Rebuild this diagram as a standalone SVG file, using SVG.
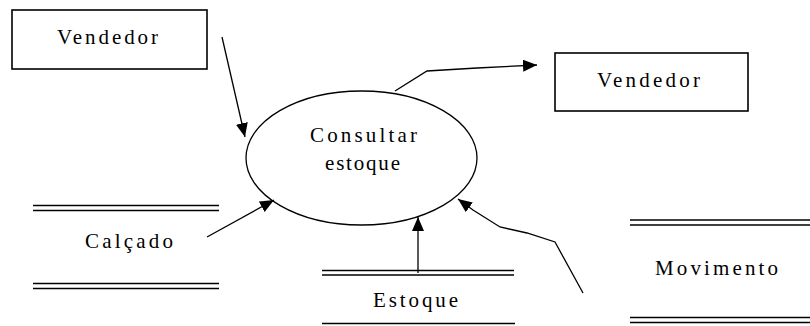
<svg xmlns="http://www.w3.org/2000/svg" width="810" height="326" viewBox="0 0 810 326">
<style>
.box{fill:#fff;stroke:#000;stroke-width:1.6}
.ln{stroke:#000;stroke-width:1.5;fill:none}
.con{stroke:#000;stroke-width:1.3;fill:none}
.t{font-family:"Liberation Serif","Times New Roman",serif;font-size:21px;fill:#000}
</style>
<defs>
<marker id="ah" viewBox="0 0 14 12" refX="14" refY="6" markerWidth="14" markerHeight="12" markerUnits="userSpaceOnUse" orient="auto">
<path d="M0,0 L14,6 L0,12 z" fill="#000"/>
</marker>
</defs>
<rect width="810" height="326" fill="#fff"/>
<g id="vendedor1">
<rect class="box" x="12" y="10" width="195" height="59"/>
<text class="t" x="57" y="44" textLength="101" lengthAdjust="spacing">Vendedor</text>
</g>
<g id="consultar">
<ellipse cx="361.5" cy="158" rx="115.5" ry="67" fill="#fff" stroke="#000" stroke-width="1.3"/>
<text class="t" x="310" y="142" textLength="107" lengthAdjust="spacing">Consultar</text>
<text class="t" x="325" y="170" textLength="75" lengthAdjust="spacing">estoque</text>
</g>
<g id="vendedor2">
<rect class="box" x="555" y="53" width="193" height="58"/>
<text class="t" x="597" y="87" textLength="103" lengthAdjust="spacing">Vendedor</text>
</g>
<g id="calcado">
<line class="ln" x1="33" y1="205.5" x2="219" y2="205.5"/>
<line class="ln" x1="33" y1="210.5" x2="219" y2="210.5"/>
<line class="ln" x1="33" y1="283.5" x2="219" y2="283.5"/>
<line class="ln" x1="33" y1="288.5" x2="219" y2="288.5"/>
<text class="t" x="85" y="248" textLength="88" lengthAdjust="spacing">Calçado</text>
</g>
<g id="estoque">
<line class="ln" x1="322" y1="270.5" x2="514" y2="270.5"/>
<line class="ln" x1="322" y1="275" x2="514" y2="275"/>
<line class="ln" x1="322" y1="323.5" x2="515" y2="323.5"/>
<text class="t" x="373" y="307" textLength="85" lengthAdjust="spacing">Estoque</text>
</g>
<g id="movimento">
<line class="ln" x1="630" y1="220" x2="810" y2="220"/>
<line class="ln" x1="630" y1="225" x2="810" y2="225"/>
<line class="ln" x1="630" y1="317.5" x2="810" y2="317.5"/>
<line class="ln" x1="630" y1="322.5" x2="810" y2="322.5"/>
<text class="t" x="655" y="275" textLength="123" lengthAdjust="spacing">Movimento</text>
</g>
<g id="connectors">
<line class="con" x1="222" y1="37" x2="245" y2="137" marker-end="url(#ah)"/>
<polyline class="con" points="395,91 427,71 477,68 537,65" marker-end="url(#ah)"/>
<line class="con" x1="207" y1="237" x2="274" y2="200" marker-end="url(#ah)"/>
<line class="con" x1="418" y1="273" x2="418" y2="217" marker-end="url(#ah)"/>
<polyline class="con" points="583,293 555,242 527,233 500,227 473,210 458,199" marker-end="url(#ah)"/>
</g>
</svg>
